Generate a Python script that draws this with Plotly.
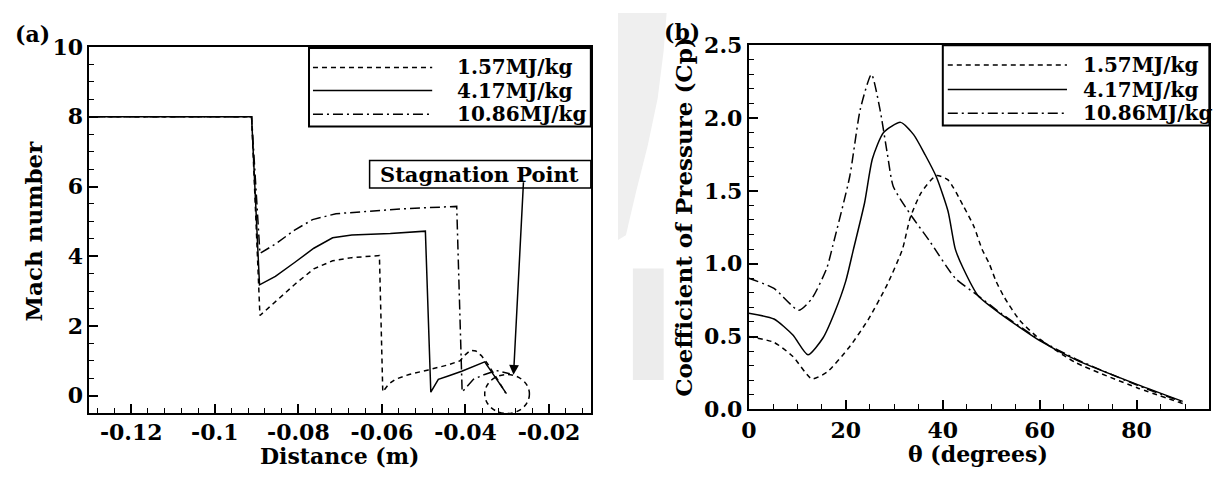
import plotly.graph_objects as go

# ---------------- data: panel (a) Mach number vs distance ----------------
dist_157 = [-0.13, -0.0912, -0.0892, -0.0855, -0.0809, -0.0763, -0.0718, -0.0672, -0.0630, -0.0606,
            -0.0598, -0.0584, -0.0568, -0.0535, -0.0489, -0.0443, -0.0413, -0.0400, -0.0388, -0.0375,
            -0.0362, -0.0349, -0.0325, -0.0304]
mach_157 = [8.0, 8.0, 2.30, 2.69, 3.19, 3.64, 3.87, 3.96, 4.00, 4.02,
            0.11, 0.33, 0.47, 0.61, 0.74, 0.88, 1.00, 1.18, 1.30, 1.28,
            1.15, 0.95, 0.50, 0.08]

dist_417 = [-0.13, -0.0912, -0.0893, -0.0855, -0.0809, -0.0763, -0.0718, -0.0672, -0.0580, -0.0496,
            -0.0483, -0.0465, -0.0443, -0.0409, -0.0354, -0.0302]
mach_417 = [8.0, 8.0, 3.18, 3.42, 3.82, 4.23, 4.53, 4.61, 4.65, 4.72,
            0.10, 0.47, 0.56, 0.70, 0.97, 0.06]

dist_1086 = [-0.13, -0.0912, -0.0892, -0.0855, -0.0809, -0.0766, -0.0710, -0.0631, -0.0552, -0.0421,
             -0.0408, -0.0381, -0.0354, -0.0326, -0.0294]
mach_1086 = [8.0, 8.0, 4.08, 4.35, 4.75, 5.05, 5.22, 5.30, 5.36, 5.43,
             0.11, 0.47, 0.61, 0.72, 0.63]

# ---------------- data: panel (b) Cp vs theta ----------------
theta_157 = [0, 5.2, 9.1, 13.0, 16.1, 20.8, 24.7, 28.6, 31.7, 33.3, 35.6, 38.7, 41.1, 44.2, 46.5,
             48.1, 49.6, 51.0, 52.7, 55.9, 60.1, 67.5, 80.2, 89.5]
cp_157 = [0.50, 0.46, 0.363, 0.21, 0.255, 0.43, 0.62, 0.86, 1.10, 1.315, 1.49, 1.605, 1.575, 1.40, 1.25,
          1.10, 1.00, 0.88, 0.77, 0.61, 0.48, 0.32, 0.147, 0.04]

theta_417 = [0, 5.2, 9.1, 12.2, 15.3, 17.7, 20.0, 21.6, 23.9, 25.5, 27.8, 31.3, 34.0, 36.4, 38.7,
             41.1, 42.6, 44.2, 47.3, 52.0, 60.1, 67.5, 80.2, 89.5]
cp_417 = [0.66, 0.62, 0.51, 0.374, 0.49, 0.665, 0.88, 1.10, 1.42, 1.72, 1.90, 1.97, 1.886, 1.746, 1.595,
          1.36, 1.10, 0.97, 0.78, 0.654, 0.47, 0.34, 0.17, 0.055]

theta_1086 = [0, 5.2, 10.3, 13.0, 16.1, 17.3, 20.8, 23.0, 25.3, 27.0, 28.6, 29.8, 33.3, 37.2, 42.6,
              47.3, 52.0, 60.1, 67.5, 80.2, 89.5]
cp_1086 = [0.90, 0.83, 0.68, 0.76, 0.97, 1.12, 1.595, 2.06, 2.30, 2.07, 1.75, 1.53, 1.34, 1.16, 0.90,
           0.78, 0.66, 0.475, 0.345, 0.165, 0.05]

series_names = ["1.57MJ/kg", "4.17MJ/kg", "10.86MJ/kg"]

xa_ticks = [-0.12, -0.1, -0.08, -0.06, -0.04, -0.02]
xa_text = ["-0.12", "-0.1", "-0.08", "-0.06", "-0.04", "-0.02"]
ya_ticks = [0, 2, 4, 6, 8, 10]
xb_ticks = [0, 20, 40, 60, 80]
yb_ticks = [0, 0.5, 1.0, 1.5, 2.0, 2.5]
yb_text = ["0.0", "0.5", "1.0", "1.5", "2.0", "2.5"]

# ---------------- styling ----------------
W, H = 1215, 481
FONT = "DejaVu Serif"
DASHES = ["5px,4px", "solid", "10px,4px,2px,4px"]
LW = 1.5


def px(x):
    return x / W


def py(y):
    return 1 - y / H


fig = go.Figure()

for xs, ys, nm, d in [(dist_157, mach_157, series_names[0], DASHES[0]),
                      (dist_417, mach_417, series_names[1], DASHES[1]),
                      (dist_1086, mach_1086, series_names[2], DASHES[2])]:
    fig.add_trace(go.Scatter(x=xs, y=ys, mode="lines", name=nm, showlegend=False,
                             line=dict(color="black", width=LW, dash=d), xaxis="x", yaxis="y"))

for xs, ys, nm, d in [(theta_157, cp_157, series_names[0], DASHES[0]),
                      (theta_417, cp_417, series_names[1], DASHES[1]),
                      (theta_1086, cp_1086, series_names[2], DASHES[2])]:
    fig.add_trace(go.Scatter(x=xs, y=ys, mode="lines", name=nm, showlegend=False,
                             line=dict(color="black", width=LW, dash=d, shape="spline", smoothing=0.6),
                             xaxis="x2", yaxis="y2"))

tickfont = dict(family=FONT, size=22, color="black", weight="bold")
common = dict(showline=True, mirror=True, linecolor="black", linewidth=2, ticks="inside",
              ticklen=9, tickwidth=1.5, tickcolor="black", showgrid=False, zeroline=False,
              tickfont=tickfont, fixedrange=True)

fig.update_layout(
    width=W, height=H, margin=dict(l=0, r=0, t=0, b=0),
    paper_bgcolor="white", plot_bgcolor="rgba(0,0,0,0)", showlegend=False,
    xaxis=dict(domain=[px(82), px(586.7)], range=[-0.13, -0.01], anchor="y",
               tickmode="array", tickvals=xa_ticks, ticktext=xa_text, ticklabelstandoff=-2,
               minor=dict(tickmode="linear", tick0=-0.12, dtick=0.004, ticks="inside",
                          ticklen=5, tickwidth=1, tickcolor="black", showgrid=False),
               **common),
    yaxis=dict(domain=[py(423), py(36)], range=[-0.5, 10], anchor="x",
               tickmode="array", tickvals=ya_ticks,
               minor=dict(tickmode="linear", tick0=0, dtick=0.5, ticks="inside",
                          ticklen=5, tickwidth=1, tickcolor="black", showgrid=False),
               **common),
    xaxis2=dict(domain=[px(745.7), px(1209.3)], range=[0, 95], anchor="y2",
                tickmode="array", tickvals=xb_ticks,
                minor=dict(tickmode="linear", tick0=0, dtick=5, ticks="inside",
                           ticklen=5, tickwidth=1, tickcolor="black", showgrid=False),
                **common),
    yaxis2=dict(domain=[py(419), py(34)], range=[0, 2.5], anchor="x2",
                tickmode="array", tickvals=yb_ticks, ticktext=yb_text,
                minor=dict(tickmode="linear", tick0=0, dtick=0.1, ticks="inside",
                           ticklen=5, tickwidth=1, tickcolor="black", showgrid=False),
                **common),
)

shapes = []
annotations = []

# faint grey background artefact between the panels (as in the source image)
def ppath(pts):
    s = "M " + " L ".join(f"{px(a):.5f},{py(b):.5f}" for a, b in pts) + " Z"
    return s

shapes.append(dict(type="path", xref="paper", yref="paper", layer="below",
                   path=ppath([(614, 0), (663, 0), (660, 40), (654, 90), (644, 140), (632, 190),
                               (622, 235), (614, 240)]),
                   fillcolor="#efefef", line=dict(width=0)))
shapes.append(dict(type="rect", xref="paper", yref="paper", layer="below",
                   x0=px(629), x1=px(660), y0=py(388), y1=py(270),
                   fillcolor="#ececec", line=dict(width=0)))


def txt(x, y, s, size=21, angle=0, xanchor="center"):
    annotations.append(dict(x=px(x), y=py(y), xref="paper", yref="paper", text=s, showarrow=False,
                            textangle=angle, xanchor=xanchor, yanchor="middle",
                            font=dict(family=FONT, size=size, color="black", weight="bold")))


# axis titles and panel labels
txt(26, 230, "Mach number", 23, -90)
txt(334, 468.5, "Distance (m)", 22)
txt(680, 216, "Coefficient of Pressure (Cp)", 23, -90)
txt(976, 466, "θ (degrees)", 22)
txt(25, 22, "(a)", 22)
txt(678, 20, "(b)", 22)

# legend boxes (drawn manually to match long line samples)
legend_specs = [
    dict(box=(303, 37, 586.7, 120), lx=(307, 427), tx=450, rows=[57.5, 82, 107]),
    dict(box=(941, 34, 1209.3, 119), lx=(946, 1066), tx=1080, rows=[55, 81, 106]),
]
for spec in legend_specs:
    x0, y0, x1, y1 = spec["box"]
    shapes.append(dict(type="rect", xref="paper", yref="paper", x0=px(x0), x1=px(x1),
                       y0=py(y1), y1=py(y0), line=dict(color="black", width=2),
                       fillcolor="white", layer="above"))
    for nm, d, ry in zip(series_names, DASHES, spec["rows"]):
        shapes.append(dict(type="line", xref="paper", yref="paper", x0=px(spec["lx"][0]),
                           x1=px(spec["lx"][1]), y0=py(ry), y1=py(ry),
                           line=dict(color="black", width=LW, dash=d), layer="above"))
        txt(spec["tx"], ry, nm, 20, 0, "left")

# stagnation point box, arrow and circle
shapes.append(dict(type="rect", xref="paper", yref="paper", x0=px(364), x1=px(586.7),
                   y0=py(185), y1=py(156), line=dict(color="black", width=1.5), layer="above"))
txt(475, 171, "Stagnation Point", 21)
annotations.append(dict(x=-0.0285, y=0.60, xref="x", yref="y", text="", showarrow=True,
                        ax=10, ay=-194, arrowhead=2, arrowsize=1.3, arrowwidth=1.5,
                        arrowcolor="black"))
shapes.append(dict(type="circle", xref="x", yref="y", x0=-0.0354, x1=-0.0247, y0=-0.51, y1=0.606,
                   line=dict(color="black", width=1.5, dash="5px,4px")))

fig.update_layout(shapes=shapes, annotations=annotations)
fig.write_html("out.html",
               post_script="document.body.style.margin='0';document.body.style.overflow='hidden';")
